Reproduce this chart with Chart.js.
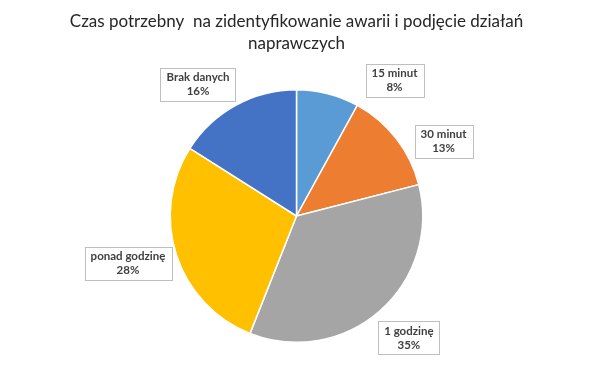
<!DOCTYPE html>
<html>
<head>
<meta charset="utf-8">
<script src="https://cdn.jsdelivr.net/npm/chart.js@4/dist/chart.umd.min.js"></script>
<style>
  html, body { margin: 0; padding: 0; background: #fff; }
  #wrap { width: 593px; height: 377px; }
</style>
</head>
<body>
<div id="wrap"><canvas id="chart"></canvas></div>
<script>
const categories = ['15 minut', '30 minut', '1 godzinę', 'ponad godzinę', 'Brak danych'];
const shares = [8, 13, 35, 28, 16];
const colors = ['#5B9BD5', '#ED7D31', '#A5A5A5', '#FFC000', '#4472C4'];
const titleLines = ['Czas potrzebny  na zidentyfikowanie awarii i podjęcie działań', 'naprawczych'];

// where each boxed label sits, relative to pie centre, in units of radius
const labelSpots = [[0.776, -1.071], [1.165, -0.591], [0.89, 0.965], [-1.335, 0.378], [-0.78, -1.043]];

const boxLabels = {
  id: 'boxLabels',
  afterDatasetsDraw(chart) {
    const ctx = chart.ctx;
    const arcs = chart.getDatasetMeta(0).data;
    ctx.save();
    ctx.font = 'bold 11.5px Lato';
    ctx.textAlign = 'center';
    ctx.textBaseline = 'middle';
    arcs.forEach((arc, i) => {
      const r = arc.outerRadius;
      const cx = arc.x + labelSpots[i][0] * r;
      const cy = arc.y + labelSpots[i][1] * r;
      const l1 = categories[i];
      const l2 = shares[i] + '%';
      const w = Math.max(ctx.measureText(l1).width, ctx.measureText(l2).width) + 12;
      const h = 33;
      ctx.fillStyle = '#fff';
      ctx.fillRect(cx - w / 2, cy - h / 2, w, h);
      ctx.strokeStyle = '#BFBFBF';
      ctx.lineWidth = 1;
      ctx.strokeRect(Math.round(cx - w / 2) + 0.5, Math.round(cy - h / 2) + 0.5, Math.round(w), h);
      ctx.fillStyle = '#404040';
      ctx.fillText(l1, cx, cy - 7);
      ctx.fillText(l2, cx, cy + 7);
    });
    ctx.restore();
  }
};

new Chart(document.getElementById('chart'), {
  type: 'pie',
  data: {
    labels: categories,
    datasets: [{
      data: shares,
      backgroundColor: colors,
      borderColor: '#fff',
      borderWidth: 1.5
    }]
  },
  options: {
    responsive: true,
    maintainAspectRatio: false,
    animation: false,
    layout: { padding: { top: 0, bottom: 34, left: 0, right: 0 } },
    plugins: {
      legend: { display: false },
      tooltip: { enabled: false },
      title: {
        display: true,
        text: titleLines,
        color: '#262626',
        font: { family: 'Lato', size: 17, weight: 'normal', lineHeight: 1.3 },
        padding: { top: 10, bottom: 34.8 }
      }
    }
  },
  plugins: [boxLabels]
});
</script>
</body>
</html>
